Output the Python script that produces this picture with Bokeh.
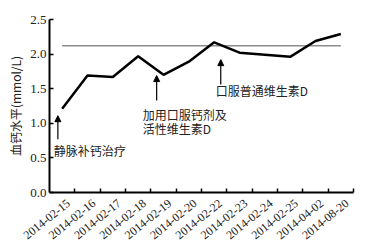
from bokeh.plotting import figure
from bokeh.models import Range1d, FixedTicker, Arrow, NormalHead, Label
from bokeh.embed import file_html
from bokeh.resources import INLINE

dates = ["2014-02-15", "2014-02-16", "2014-02-17", "2014-02-18", "2014-02-19", "2014-02-20",
         "2014-02-22", "2014-02-23", "2014-02-24", "2014-02-25", "2014-04-02", "2014-08-20"]
calcium = [1.21, 1.69, 1.67, 1.97, 1.70, 1.89, 2.17, 2.02, 1.99, 1.96, 2.19, 2.29]
ref_level = 2.12
y_ticks = [0.0, 0.5, 1.0, 1.5, 2.0, 2.5]

# annotations: (x_arrow, y_start, y_end, text lines, x_text, y_text_first)
notes = [
    (-0.17, 0.77, 1.11, ["静脉补钙治疗"], -0.33, 0.61),
    (3.73, 1.33, 1.69, ["加用口服钙剂及", "活性维生素D"], 3.18, 1.13),
    (6.26, 1.56, 1.92, ["口服普通维生素D"], 6.06, 1.48),
]

n = len(dates)
xs = list(range(n))
label_shift = 0.25  # labels sit slightly right of the category centre

p = figure(width=361, height=246, output_backend="svg", toolbar_location=None,
           x_range=Range1d(-0.5, n - 0.5), y_range=Range1d(0, 2.5),
           min_border_left=49, min_border_right=8, min_border_top=19, min_border_bottom=54)
p.outline_line_color = None
p.xgrid.grid_line_color = None
p.ygrid.grid_line_color = None
p.background_fill_color = "white"

serif = "Liberation Serif"
cjk = "Noto Sans CJK SC"

# x axis
p.xaxis.ticker = FixedTicker(ticks=[i + label_shift for i in xs], minor_ticks=[i + 0.5 for i in xs])
p.xaxis.major_label_overrides = {i + label_shift: d for i, d in enumerate(dates)}
p.xaxis.major_label_orientation = 0.68
p.xaxis.major_tick_line_color = None
p.xaxis.minor_tick_in = 4
p.xaxis.minor_tick_out = 0
p.xaxis.minor_tick_line_width = 1.5
p.xaxis.minor_tick_line_color = "black"
p.xaxis.axis_line_width = 2
p.xaxis.axis_line_color = "black"
p.xaxis.major_label_text_font = serif
p.xaxis.major_label_text_font_size = "12px"
p.xaxis.major_label_text_color = "#222222"
p.xaxis.major_label_standoff = 3

# y axis
p.yaxis.ticker = FixedTicker(ticks=y_ticks, minor_ticks=[])
p.yaxis.major_label_overrides = {t: f"{t:.1f}" for t in y_ticks}
p.yaxis.major_tick_in = 4
p.yaxis.major_tick_out = 0
p.yaxis.major_tick_line_width = 1.5
p.yaxis.axis_line_width = 2
p.yaxis.axis_line_color = "black"
p.yaxis.major_label_text_font = serif
p.yaxis.major_label_text_font_size = "13px"
p.yaxis.major_label_text_color = "#222222"
p.yaxis.major_label_standoff = 3
p.yaxis.axis_label = "血钙水平(mmol/L)"
p.yaxis.axis_label_text_font = cjk
p.yaxis.axis_label_text_font_size = "12px"
p.yaxis.axis_label_text_font_style = "normal"
p.yaxis.axis_label_text_color = "#222222"
p.yaxis.axis_label_standoff = 3

# reference line
p.line([xs[0], xs[-1]], [ref_level, ref_level], line_color="#8c8c8c", line_width=1.5)
# data line
p.line(xs, calcium, line_color="black", line_width=2.5)

for xa, y0, y1, lines, xt, yt in notes:
    p.add_layout(Arrow(x_start=xa, y_start=y0, x_end=xa, y_end=y1, line_width=1.2,
                       line_color="black",
                       end=NormalHead(size=6, fill_color="black", line_color="black")))
    for k, t in enumerate(lines):
        p.add_layout(Label(x=xt, y=yt - k * 0.21, text=t, text_font=cjk,
                           text_font_size="12px", text_baseline="middle",
                           text_color="#222222"))

open("out.html", "w").write(file_html(p, INLINE))
